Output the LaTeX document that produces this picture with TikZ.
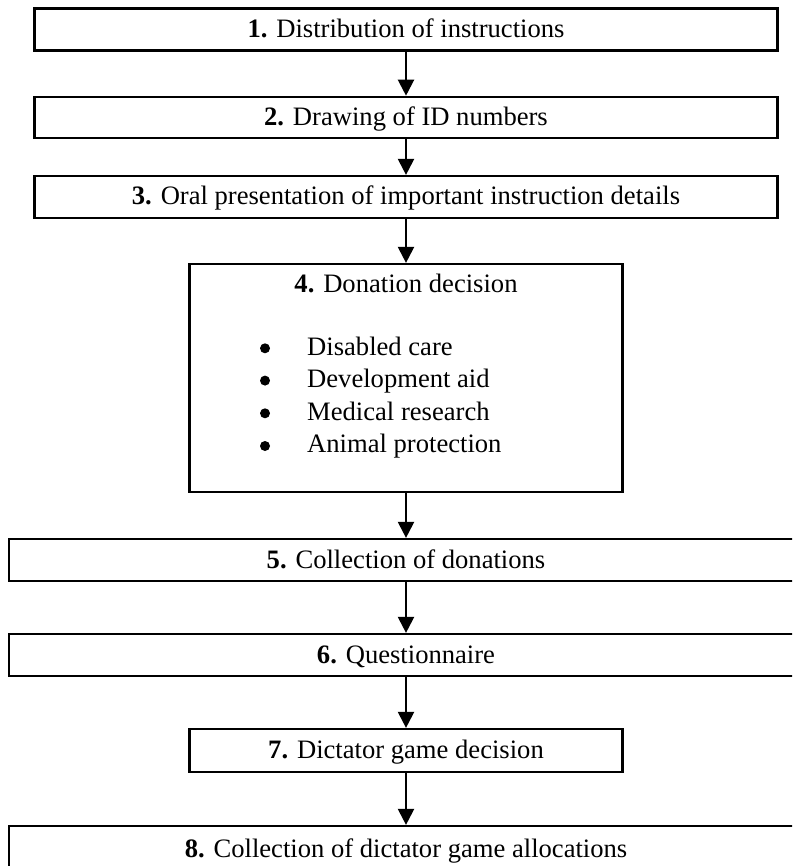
\documentclass[tikz,border=0pt]{standalone}
\usepackage{fontspec}
\setmainfont{Liberation Serif}
\usetikzlibrary{arrows.meta}
\begin{document}
\begin{tikzpicture}[x=1pt,y=-1pt,
  box/.style={draw=black, line width=2.2pt, minimum height=42pt, inner sep=0pt,
    text height=18pt, text depth=2pt, font=\fontsize{26.6}{32}\selectfont},
  wide/.style={box, minimum width=743pt},
  widest/.style={box, minimum width=794pt},
  narrow/.style={box, minimum width=433pt},
  flow/.style={line width=2.2pt, -{Triangle[width=16pt,length=16pt]}},
  txt/.style={inner sep=0pt, anchor=base west, font=\fontsize{26.6}{32}\selectfont},
  bul/.style={inner sep=0pt, anchor=base, font=\fontsize{26.6}{32}\selectfont},
  dot/.style={circle, fill=black, inner sep=0pt, minimum size=10pt}]
\useasboundingbox (0,0) rectangle (792,866);
\clip (0,0) rectangle (792,866);

\node[wide] (b1) at (406,29.5) {\textbf{1.} Distribution of instructions};
\node[wide, minimum height=41pt] (b2) at (406,117.3) {\textbf{2.} Drawing of ID numbers};
\node[wide] (b3) at (406,197) {\textbf{3.} Oral presentation of important instruction details};
\node[narrow, minimum height=228pt] (b4) at (406,378) {};
\node[bul] (t4) at (406,292.7) {\textbf{4.} Donation decision};
\node[dot] (d1) at (265,348.3) {};
\node[txt] (i1) at (307,355) {Disabled care};
\node[dot] (d2) at (265,380.6) {};
\node[txt] (i2) at (307,387.3) {Development aid};
\node[dot] (d3) at (265,413.3) {};
\node[txt] (i3) at (307,420) {Medical research};
\node[dot] (d4) at (265,446) {};
\node[txt] (i4) at (307,452.7) {Animal protection};
\node[widest] (b5) at (406,560) {\textbf{5.} Collection of donations};
\node[widest] (b6) at (406,655) {\textbf{6.} Questionnaire};
\node[narrow, minimum height=43pt] (b7) at (406,750.5) {\textbf{7.} Dictator game decision};
\node[widest, minimum height=52pt, text depth=8pt] (b8) at (406,852) {\textbf{8.} Collection of dictator game allocations};

\draw[flow] (b1.south) -- (b2.north);
\draw[flow] (b2.south) -- (b3.north);
\draw[flow] (b3.south) -- (b4.north);
\draw[flow] (b4.south) -- (b5.north);
\draw[flow] (b5.south) -- (b6.north);
\draw[flow] (b6.south) -- (b7.north);
\draw[flow] (b7.south) -- (b8.north);
\end{tikzpicture}
\end{document}
